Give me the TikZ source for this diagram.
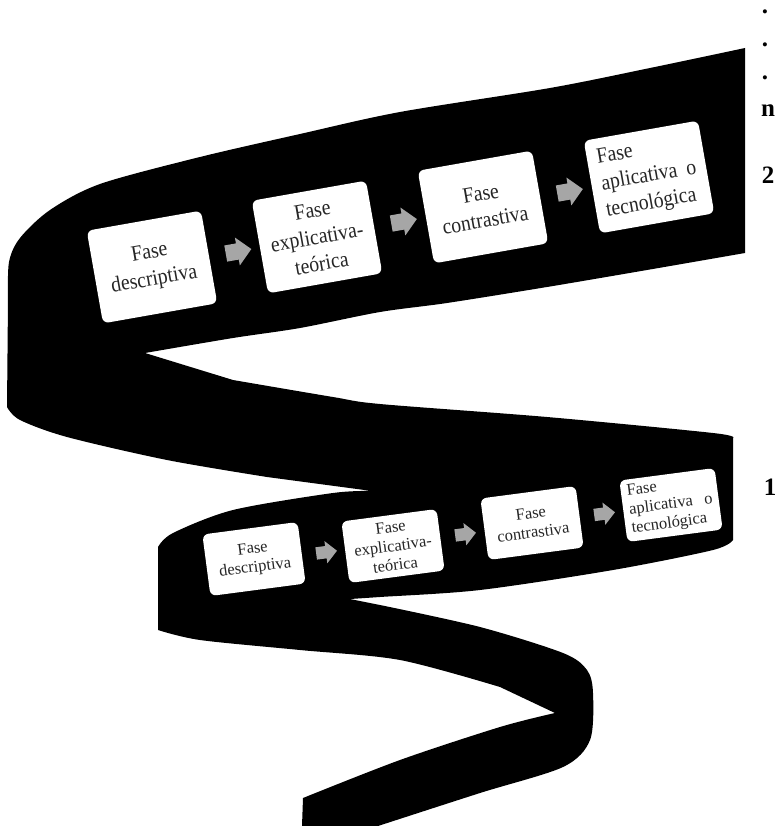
\documentclass[tikz,border=0pt]{standalone}
\usepackage{fontspec}
\setmainfont{Liberation Serif}
\newfontfamily\narrowserif[FakeStretch=0.9]{Liberation Serif}
\usetikzlibrary{calc,shapes.arrows}

\tikzset{
	fase/.style={fill=white, rounded corners=6pt, align=center, inner sep=2pt, text=black!85},
	faseup/.style={fase, rotate=10, minimum width=116pt, minimum height=94pt, font=\narrowserif\fontsize{22}{27}\selectfont},
	faselow/.style={fase, rotate=7.5, minimum width=96pt, minimum height=62pt, font=\fontsize{16.5}{19}\selectfont},
	flecha/.style={single arrow, fill=black!35, inner xsep=0pt},
	flechaup/.style={flecha, rotate=10, minimum height=26pt, inner ysep=8pt, single arrow head extend=6pt},
	flechalow/.style={flecha, rotate=7.5, minimum height=21pt, inner ysep=6pt, single arrow head extend=5pt},
	nivel/.style={font=\bfseries\fontsize{25}{30}\selectfont, anchor=base, inner sep=1pt}
}

\begin{document}
\begin{tikzpicture}[x=1pt, y=-1pt]
			%%%%% START %%%%%
			\useasboundingbox (0, 0) rectangle (781, 826);
			
			% ribbon
			\fill[black] plot[smooth] coordinates {(8, 300) (9, 262) (20, 238) (50, 210) (100, 184) (200, 157) (300, 134) (400, 112) (550, 88) (650, 68) (745, 48)}
			-- plot[smooth] coordinates {(745, 253) (647, 270) (547, 287) (447, 303) (380, 312) (300, 328) (233, 338) (145, 353)}
			-- plot[smooth] coordinates {(233, 380) (333, 397) (380, 404) (547, 417) (713, 433) (733, 438)}
			-- plot[smooth] coordinates {(733, 540) (713, 550) (613, 570) (480, 590) (380, 597) (350, 599)}
			-- plot[smooth] coordinates {(380, 605) (480, 627) (563, 653) (587, 670) (593, 693) (590, 740) (563, 767) (480, 793) (378, 826)}
			-- (302, 826)
			-- plot[smooth] coordinates {(303, 798) (400, 760) (500, 727) (555, 713)}
			-- plot[smooth] coordinates {(500, 687) (400, 660) (300, 650) (200, 640) (158, 630)}
			-- plot[smooth] coordinates {(158, 547) (173, 533) (233, 510) (333, 493) (372, 491)}
			-- plot[smooth] coordinates {(267, 477) (167, 460) (67, 437) (20, 420) (7, 407)}
			-- cycle;
			
			% level 2
			\node[faseup] (des2) at (152, 267) {Fase\\descriptiva};
			\node[faseup] (exp2) at (317, 237) {Fase\\explicativa-\\teórica};
			\node[faseup] (con2) at (483, 207) {Fase\\contrastiva};
			\node[faseup, align=justify, text width=96pt] (apl2) at (649, 177) {Fase\\aplicativa o\linebreak tecnológica};
			
			\node[flechaup] (f21) at ($(des2)!0.5!(exp2)$) {};
			\node[flechaup] (f22) at ($(exp2)!0.5!(con2)$) {};
			\node[flechaup] (f23) at ($(con2)!0.5!(apl2)$) {};
			
			% level 1
			\node[faselow] (des1) at (254, 559) {Fase\\descriptiva};
			\node[faselow] (exp1) at (393, 546) {Fase\\explicativa-\\teórica};
			\node[faselow] (con1) at (532, 523) {Fase\\contrastiva};
			\node[faselow, align=justify, text width=84pt] (apl1) at (671, 505) {Fase\\aplicativa o\linebreak tecnológica};
			
			\node[flechalow] (f11) at ($(des1)!0.5!(exp1)$) {};
			\node[flechalow] (f12) at ($(exp1)!0.5!(con1)$) {};
			\node[flechalow] (f13) at ($(con1)!0.5!(apl1)$) {};
			
			% levels
			\node[nivel] (p1) at (765, 14) {.};
			\node[nivel] (p2) at (765, 47) {.};
			\node[nivel] (p3) at (765, 80) {.};
			\node[nivel] (ln) at (768, 117) {n};
			\node[nivel] (l2) at (768, 184) {2};
			\node[nivel] (l1) at (770, 495) {1};
			%%%%% END %%%%%
\end{tikzpicture}
\end{document}
